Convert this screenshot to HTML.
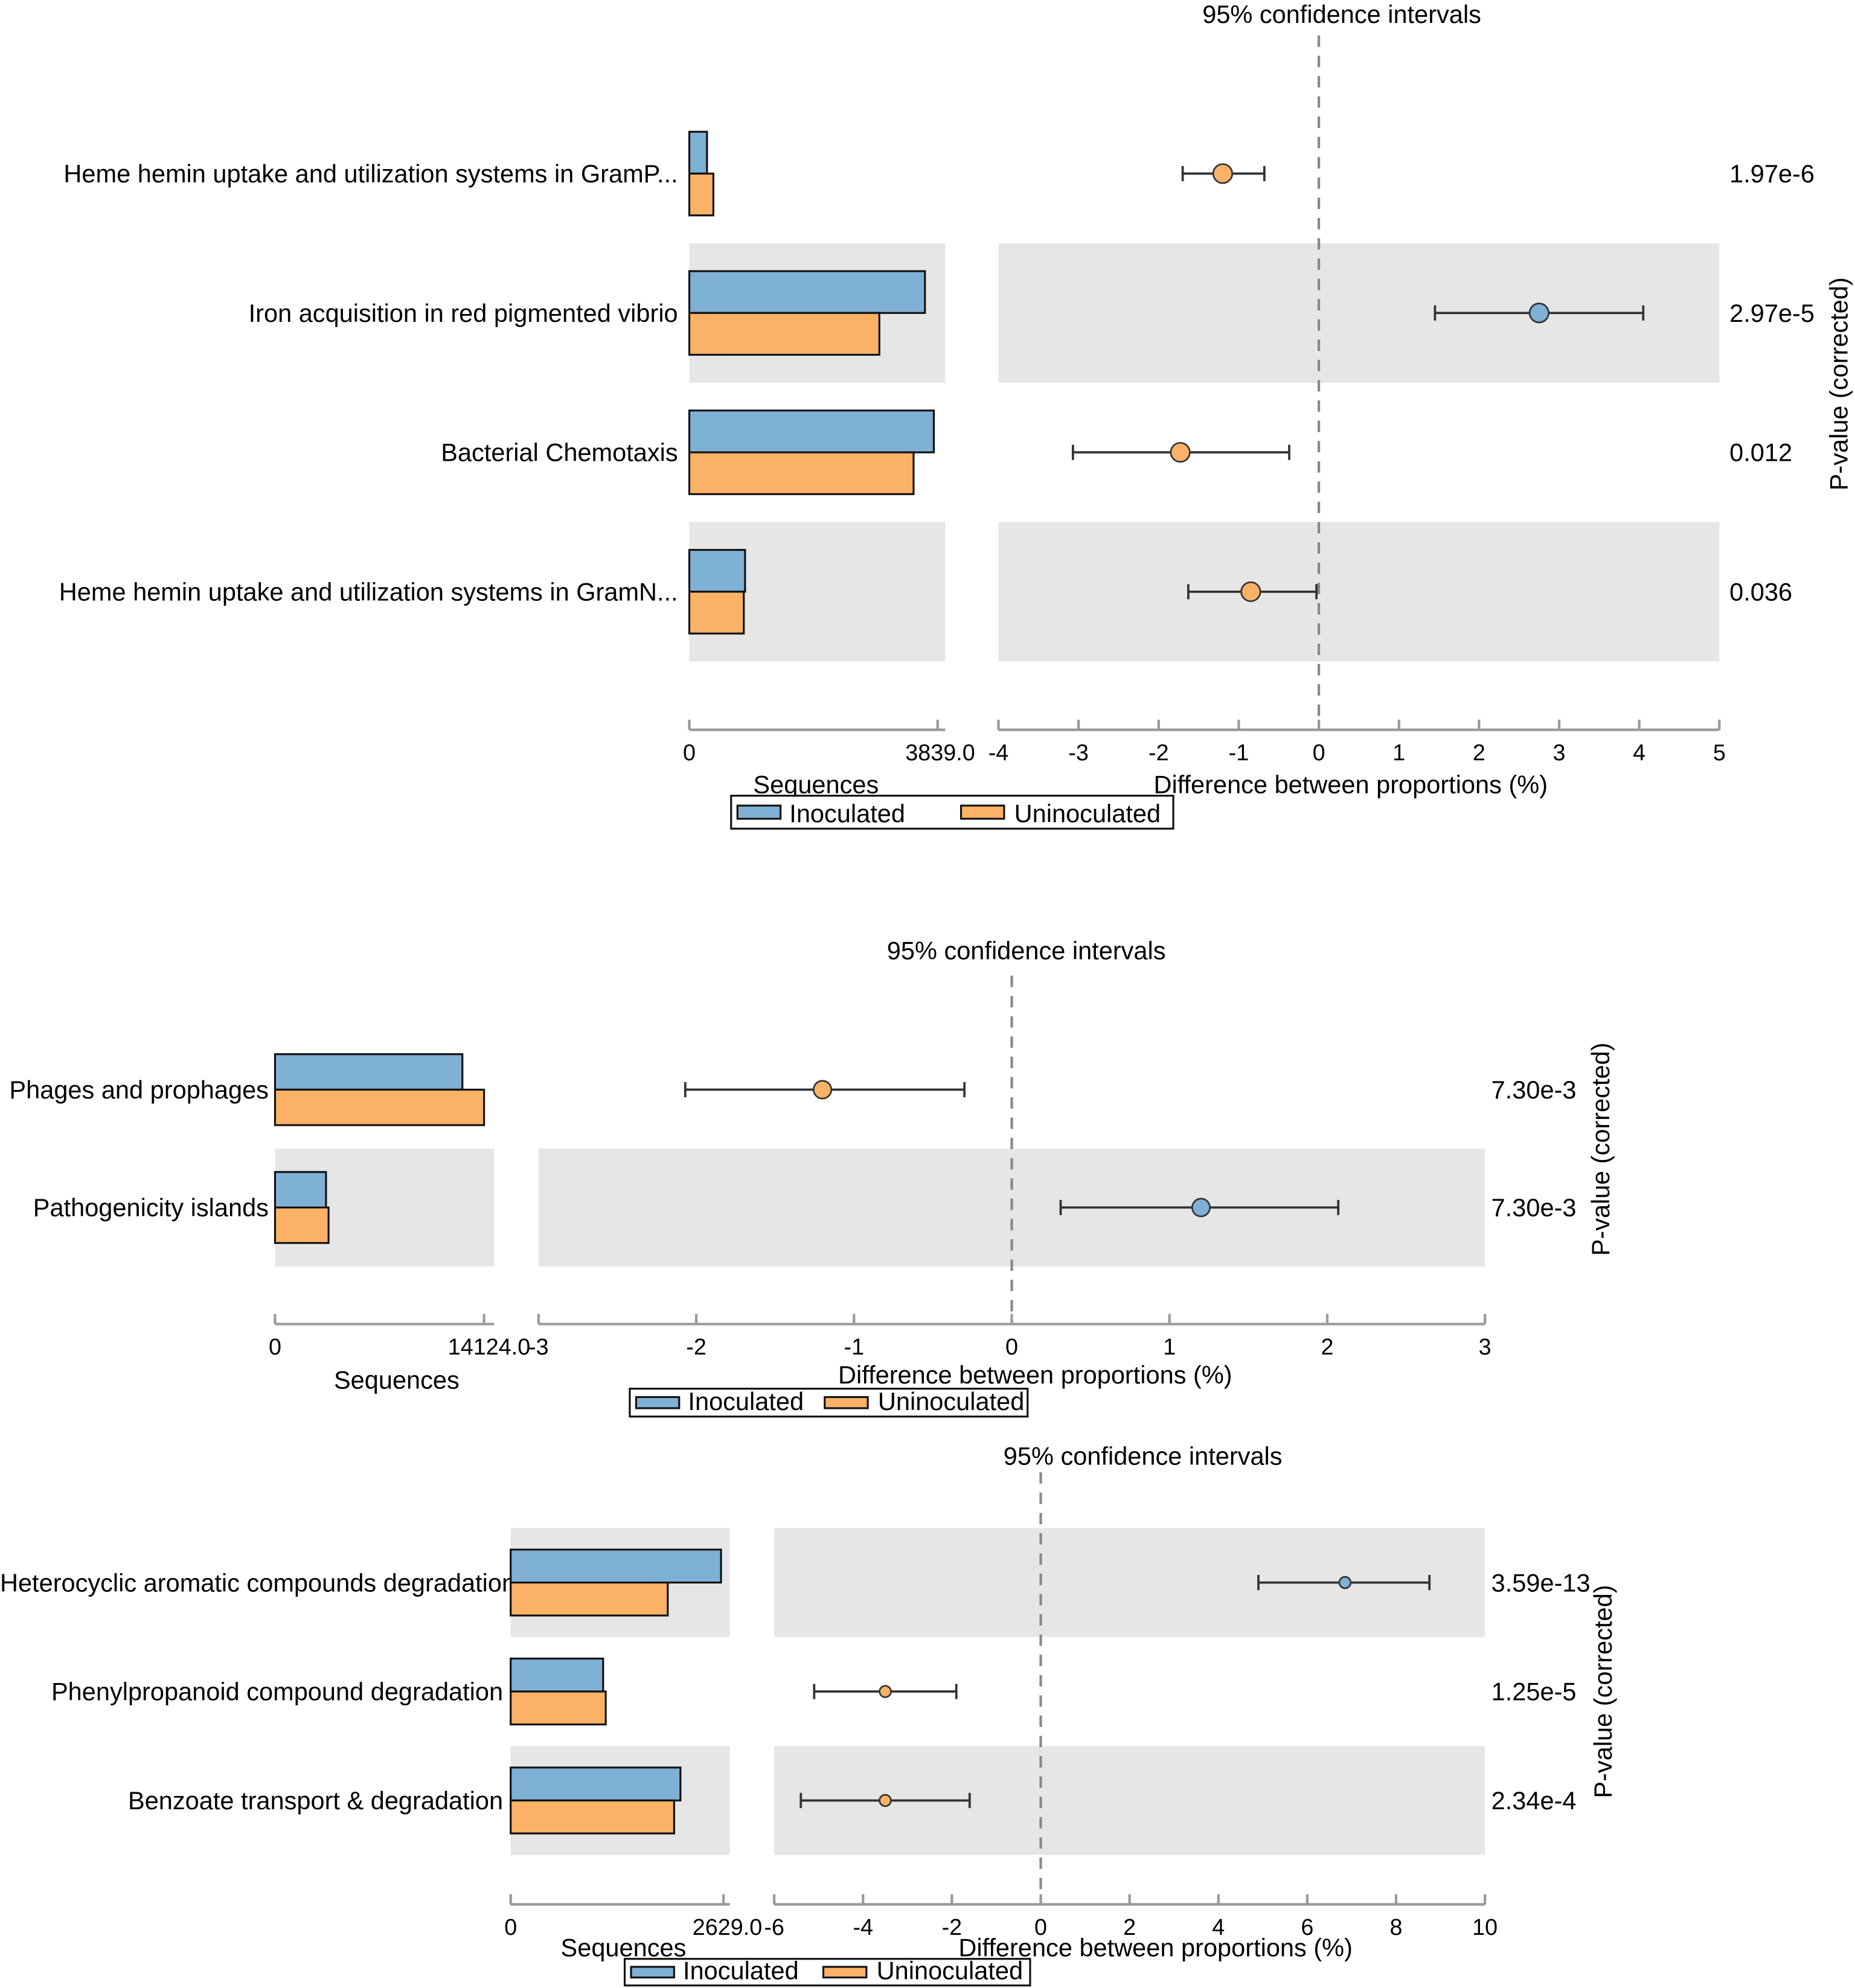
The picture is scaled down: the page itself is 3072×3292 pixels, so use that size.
<!DOCTYPE html>
<html><head><meta charset="utf-8"><style>
html,body{margin:0;padding:0;background:#fff;}
svg{display:block;font-family:"Liberation Sans",Arial,sans-serif;}
</style></head><body>
<svg id="chart" width="3072" height="3292" viewBox="0 0 1464 1569" xmlns="http://www.w3.org/2000/svg"></svg>
<script>
// Panel 1 data
const p1Categories=["Heme hemin uptake and utilization systems in GramP...","Iron acquisition in red pigmented vibrio","Bacterial Chemotaxis","Heme hemin uptake and utilization systems in GramN..."];
const p1Inoc=[274,3643,3780,862];
const p1Uninoc=[372,2938,3467,842];
const p1Diff=[-1.2,2.75,-1.73,-0.85];
const p1Lo=[-1.7,1.45,-3.07,-1.63];
const p1Hi=[-0.68,4.05,-0.37,-0.03];
const p1P=["1.97e-6","2.97e-5","0.012","0.036"];
const p1Ticks=[-4,-3,-2,-1,0,1,2,3,4,5];
const p1SeqMax=3839;
// Panel 2 data
const p2Categories=["Phages and prophages","Pathogenicity islands"];
const p2Inoc=[12660,3445];
const p2Uninoc=[14124,3617];
const p2Diff=[-1.2,1.2];
const p2Lo=[-2.07,0.31];
const p2Hi=[-0.3,2.07];
const p2P=["7.30e-3","7.30e-3"];
const p2Ticks=[-3,-2,-1,0,1,2,3];
const p2SeqMax=14124;
// Panel 3 data
const p3Categories=["Heterocyclic aromatic compounds degradation","Phenylpropanoid compound degradation","Benzoate transport & degradation"];
const p3Inoc=[2598,1142,2097];
const p3Uninoc=[1940,1174,2019];
const p3Diff=[6.85,-3.5,-3.5];
const p3Lo=[4.9,-5.1,-5.4];
const p3Hi=[8.75,-1.9,-1.6];
const p3P=["3.59e-13","1.25e-5","2.34e-4"];
const p3Ticks=[-6,-4,-2,0,2,4,6,8,10];
const p3SeqMax=2629;

const NS="http://www.w3.org/2000/svg";
const svg=document.getElementById('chart');
const FS=19.8, TFS=18;
function mk(tag,attrs,parent,text){const e=document.createElementNS(NS,tag);for(const k in attrs)e.setAttribute(k,attrs[k]);if(text!==undefined)e.textContent=text;(parent||svg).appendChild(e);return e;}

function panel(c){
  const g=mk('g',{});
  
  
  const n=c.cats.length;
  const xs=v=>c.lx0+(v/c.seqMax)*(c.lxm-c.lx0);
  const tmin=c.ticks[0],tmax=c.ticks[c.ticks.length-1];
  const xd=v=>c.rx0+(v-tmin)/(tmax-tmin)*(c.rx1-c.rx0);
  for(let i=0;i<n;i++){
    const yc=c.y0+i*c.rh;
    if(i%2===c.shadeParity){
      const s1=mk('rect',{x:c.lx0,y:yc-c.rh/2,width:c.lx1-c.lx0,height:c.rh,fill:'#e6e6e6'},g);
      
      
      const s2=mk('rect',{x:c.rx0,y:yc-c.rh/2,width:c.rx1-c.rx0,height:c.rh,fill:'#e6e6e6'},g);
      
      
    }
  }
  const t=mk('text',{x:c.titleX,y:c.titleY,'font-size':FS,'text-anchor':'middle'},g,'95% confidence intervals');
  
  
  const z=mk('line',{x1:xd(0),x2:xd(0),y1:c.dashTop,y2:c.axisY,stroke:'#888','stroke-width':2,'stroke-dasharray':'9,7'},g);
  
  
  const bh=c.barH;
  for(let i=0;i<n;i++){
    const yc=c.y0+i*c.rh;
    const lx=(c.labelXs&&c.labelXs[i]!==undefined)?c.labelXs[i]:c.labelX;
    const lab=mk('text',{x:lx,y:yc+7,'font-size':FS,'text-anchor':'end'},g,c.cats[i]);
    
    
    const b1=mk('rect',{x:c.lx0,y:yc-bh,width:xs(c.inoc[i])-c.lx0,height:bh,fill:'#7fb0d5',stroke:'#111','stroke-width':1.5},g);
    
    
    const b2=mk('rect',{x:c.lx0,y:yc,width:xs(c.unin[i])-c.lx0,height:bh,fill:'#fbb266',stroke:'#111','stroke-width':1.5},g);
    
    
    const el=mk('line',{x1:xd(c.lo[i]),x2:xd(c.hi[i]),y1:yc,y2:yc,stroke:'#333','stroke-width':1.8},g);
    
    
    for(const v of [c.lo[i],c.hi[i]]){
      const cap=mk('line',{x1:xd(v),x2:xd(v),y1:yc-6,y2:yc+6,stroke:'#333','stroke-width':1.8},g);
      
      
    }
    const pt=mk('circle',{cx:xd(c.diff[i]),cy:yc,r:c.dotR,fill:c.diff[i]>0?'#7fb0d5':'#fbb266',stroke:'#333','stroke-width':1.3},g);
    
    
    const pv=mk('text',{x:c.pX,y:yc+7,'font-size':FS},g,c.p[i]);
    
    
  }
  const ax1=mk('line',{x1:c.lx0,x2:c.lx1,y1:c.axisY,y2:c.axisY,stroke:'#999','stroke-width':2},g);
  
  
  for(const v of [0,c.seqMax]){
    mk('line',{x1:xs(v),x2:xs(v),y1:c.axisY-8,y2:c.axisY,stroke:'#999','stroke-width':2},g);
  }
  const sl0=mk('text',{x:c.lx0,y:c.axisY+24,'font-size':TFS,'text-anchor':'middle'},g,'0');
  
  
  const sl1=mk('text',{x:xs(c.seqMax)-c.seqLabShift,y:c.axisY+24,'font-size':TFS,'text-anchor':'middle'},g,c.seqMax.toFixed(1));
  
  
  const ax2=mk('line',{x1:c.rx0,x2:c.rx1,y1:c.axisY,y2:c.axisY,stroke:'#999','stroke-width':2},g);
  
  
  for(const v of c.ticks){
    mk('line',{x1:xd(v),x2:xd(v),y1:c.axisY-8,y2:c.axisY,stroke:'#999','stroke-width':2},g);
    const tl=mk('text',{x:xd(v),y:c.axisY+24,'font-size':TFS,'text-anchor':'middle'},g,String(v));
    
    
  }
  const st=mk('text',{x:c.seqTX,y:c.seqTY,'font-size':FS,'text-anchor':'middle'},g,'Sequences');
  
  
  const dt=mk('text',{x:c.difTX,y:c.difTY,'font-size':FS,'text-anchor':'middle'},g,'Difference between proportions (%)');
  
  
  const yt=mk('text',{x:0,y:0,'font-size':FS,'text-anchor':'middle',transform:`translate(${c.ylX},${c.ylY}) rotate(-90)`},g,'P-value (corrected)');
  
  
  const L=c.leg;
  const lg=mk('g',{},g);
  
  
  mk('rect',{x:L[0],y:L[1],width:L[2]-L[0],height:L[3]-L[1],fill:'#fff',stroke:'#111','stroke-width':1.5},lg);
  const hh=L[3]-L[1];
  const e1=mk('rect',{x:L[0]+5,y:L[1]+hh*0.3,width:34,height:hh*0.4,fill:'#7fb0d5',stroke:'#111','stroke-width':1.5},lg);
  
  
  const lt1=mk('text',{x:L[0]+46,y:L[3]-5,'font-size':FS},lg,'Inoculated');
  
  
  const mid=L[0]+(L[2]-L[0])*c.legSplit;
  const e2=mk('rect',{x:mid,y:L[1]+hh*0.3,width:34,height:hh*0.4,fill:'#fbb266',stroke:'#111','stroke-width':1.5},lg);
  
  
  const lt2=mk('text',{x:mid+42,y:L[3]-5,'font-size':FS},lg,'Uninoculated');
  
  
}

panel({name:'panel-1',cats:p1Categories,inoc:p1Inoc,unin:p1Uninoc,diff:p1Diff,lo:p1Lo,hi:p1Hi,p:p1P,ticks:p1Ticks,seqMax:p1SeqMax,
  y0:137,rh:110,barH:33,shadeParity:1,lx0:544,lx1:746,lxm:740,rx0:788,rx1:1357,labelX:535,pX:1365,
  titleX:1059,titleY:18,dashTop:28,axisY:576,seqLabShift:-2,seqTX:644,seqTY:626,difTX:1066,difTY:626,ylX:1458,ylY:303,
  leg:[577,628,926,654],legSplit:0.52,dotR:7.5});
panel({name:'panel-2',cats:p2Categories,inoc:p2Inoc,unin:p2Uninoc,diff:p2Diff,lo:p2Lo,hi:p2Hi,p:p2P,ticks:p2Ticks,seqMax:p2SeqMax,
  y0:860,rh:93,barH:28,shadeParity:1,lx0:217,lx1:390,lxm:382,rx0:425,rx1:1172,labelX:212,pX:1177,
  titleX:810,titleY:757,dashTop:770,axisY:1045,seqLabShift:-4,seqTX:313,seqTY:1096,difTX:817,difTY:1092,ylX:1270,ylY:907,
  leg:[497,1096,811,1118],legSplit:0.49,dotR:7});
panel({name:'panel-3',cats:p3Categories,inoc:p3Inoc,unin:p3Uninoc,diff:p3Diff,lo:p3Lo,hi:p3Hi,p:p3P,ticks:p3Ticks,seqMax:p3SeqMax,
  y0:1249,rh:86,barH:26,shadeParity:0,lx0:403,lx1:576,lxm:571,rx0:611,rx1:1172,labelX:397,labelXs:[407],pX:1177,
  titleX:902,titleY:1156,dashTop:1162,axisY:1503,seqLabShift:-3,seqTX:492,seqTY:1544,difTX:912,difTY:1544,ylX:1272,ylY:1335,
  leg:[493,1546,813,1567],legSplit:0.49,dotR:4.5});
</script>
</body></html>
